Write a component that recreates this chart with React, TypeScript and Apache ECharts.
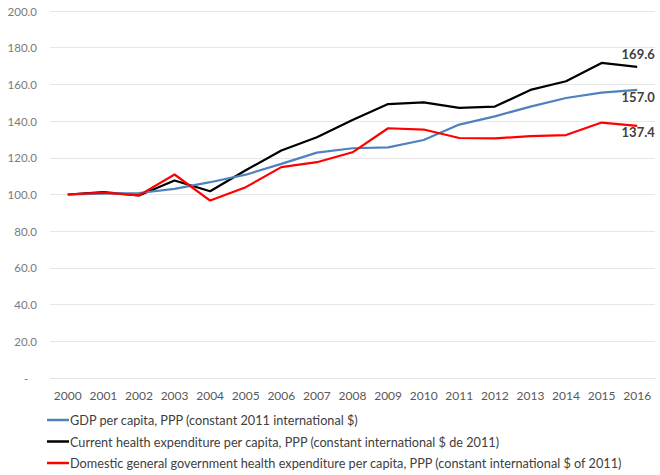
import React, { useEffect, useRef } from "react";
import * as echarts from "echarts";

const years = ["2000","2001","2002","2003","2004","2005","2006","2007","2008","2009","2010","2011","2012","2013","2014","2015","2016"];
const gdp = [100.0, 100.5, 100.8, 103.1, 106.7, 110.8, 116.7, 122.8, 125.2, 125.7, 129.7, 138.1, 142.6, 147.9, 152.6, 155.5, 157.0];
const currentHealth = [100.0, 101.3, 99.5, 107.6, 101.8, 113.2, 124.0, 131.2, 140.6, 149.3, 150.2, 147.2, 147.9, 157.0, 161.7, 171.7, 169.6];
const domesticGov = [100.0, 101.0, 99.5, 110.9, 96.7, 104.0, 114.9, 117.6, 123.0, 136.1, 135.4, 130.8, 130.6, 131.8, 132.4, 139.2, 137.4];
const seriesNames = [
  "GDP per capita, PPP (constant 2011 international $)",
  "Current health expenditure per capita, PPP (constant international $ de 2011)",
  "Domestic general government health expenditure per capita, PPP (constant international $ of 2011)",
];
const colors = ["#4f81bd", "#000000", "#ff0000"];
const labelOffsets = [[1, 7], [1, -13], [1, 6]];

const FONT = "Lato, 'Liberation Sans', sans-serif";

export default function App() {
  const ref = useRef<HTMLDivElement>(null);
  useEffect(() => {
    if (!ref.current) return;
    const chart = echarts.init(ref.current, null, { renderer: "svg" });
    const datasets = [gdp, currentHealth, domesticGov];
    chart.setOption({
      animation: false,
      backgroundColor: "#ffffff",
      textStyle: { fontFamily: FONT },
      grid: { left: 50, right: 5, top: 11, bottom: 97, containLabel: false },
      xAxis: {
        type: "category",
        data: years,
        boundaryGap: true,
        axisLine: { show: true, lineStyle: { color: "#e3e3e3", width: 1 } },
        axisTick: { show: false },
        axisLabel: { color: "#595959", fontSize: 12, fontFamily: FONT, margin: 11, interval: 0 },
      },
      yAxis: {
        type: "value",
        min: 0,
        max: 200,
        interval: 20,
        axisLine: { show: false },
        axisTick: { show: false },
        splitLine: { lineStyle: { color: "#e6e6e6", width: 1 } },
        axisLabel: {
          color: "#7a7a7a",
          fontSize: 11.5,
          fontFamily: FONT,
          margin: 13,
          formatter: (v: number) => (v === 0 ? "-   " : v.toFixed(1)),
        },
      },
      legend: {
        type: "plain",
        orient: "vertical",
        left: 47,
        top: 413,
        height: 62,
        padding: 0,
        itemWidth: 22,
        itemHeight: 2.5,
        itemGap: 7.5,
        icon: "rect",
        textStyle: { color: "#404040", fontSize: 12.7, fontFamily: FONT, lineHeight: 14, padding: [0, 0, 0, -4] },
        data: seriesNames,
      },
      series: seriesNames.map((name, i) => ({
        name,
        type: "line",
        data: datasets[i].map((v, j) =>
          j === datasets[i].length - 1
            ? {
                value: v,
                label: {
                  show: true,
                  position: "inside",
                  offset: labelOffsets[i],
                  formatter: (p: any) => Number(p.value).toFixed(1),
                  color: "#404040",
                  fontWeight: "bold",
                  fontSize: 13,
                  fontFamily: FONT,
                },
              }
            : v
        ),
        symbol: "circle",
        symbolSize: 0,
        showSymbol: true,
        lineStyle: { color: colors[i], width: 2.2 },
        itemStyle: { color: colors[i] },
        z: i === 0 ? 3 : i === 1 ? 2 : 4,
      })),
    });
    return () => chart.dispose();
  }, []);
  return (
    <div
      ref={ref}
      style={{ position: "fixed", left: 0, top: 0, width: 660, height: 475 }}
    />
  );
}
